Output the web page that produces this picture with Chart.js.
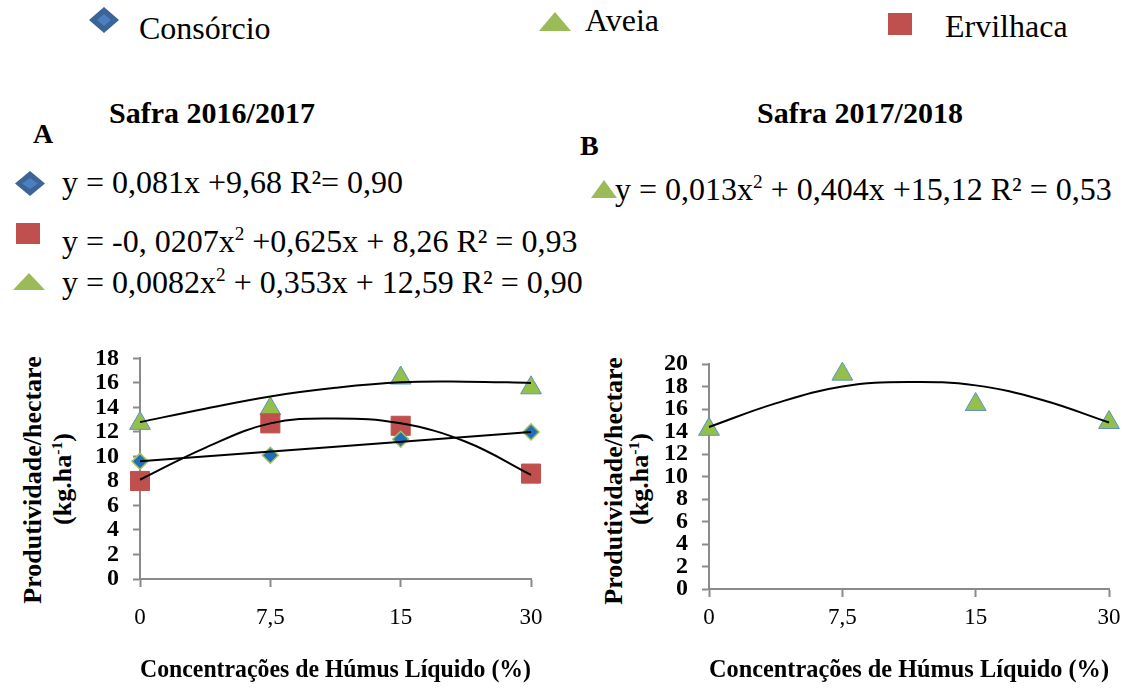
<!DOCTYPE html>
<html>
<head>
<meta charset="utf-8">
<script src="https://cdn.jsdelivr.net/npm/chart.js@4.4.1/dist/chart.umd.min.js"></script>
<style>
  body { margin: 0; background: #fff; width: 1134px; height: 695px; position: relative; overflow: hidden;
         font-family: "Liberation Serif", "Times New Roman", serif; color: #000; }
  .t { position: absolute; white-space: nowrap; line-height: 1; }
  .leg { font-size: 32px; }
  .eq { font-size: 32px; }
  .ttl { font-size: 30px; font-weight: bold; }
  .let { font-size: 28px; font-weight: bold; }
  .yt { position: absolute; white-space: nowrap; font-size: 26px; font-weight: bold; line-height: 1;
        transform: translate(-50%, -50%) rotate(-90deg); }
  sup { font-size: 0.6em; vertical-align: 0.6em; line-height: 0; }
  svg { position: absolute; overflow: visible; }
  canvas { position: absolute; }
</style>
</head>
<body>
  <!-- legend -->
  <svg style="left:89px;top:7px" width="30" height="26"><polygon points="15,0 30,13 15,26 0,13" fill="#3C6497"/><polygon points="15,7 22,13 15,19 8,13" fill="#4B80C0"/></svg>
  <div class="t leg" style="left:139px;top:12px">Consórcio</div>
  <svg style="left:539px;top:12px" width="32" height="19"><polygon points="16,0 32,19 0,19" fill="#9BBB59"/></svg>
  <div class="t leg" style="left:585px;top:4px">Aveia</div>
  <svg style="left:888px;top:13px" width="24" height="22"><rect width="24" height="22" fill="#C0504D"/></svg>
  <div class="t leg" style="left:945px;top:10px">Ervilhaca</div>

  <!-- panel headers -->
  <div class="t ttl" style="left:212px;top:98px;transform:translateX(-50%)">Safra 2016/2017</div>
  <div class="t let" style="left:33px;top:120px">A</div>
  <div class="t ttl" style="left:860px;top:98px;transform:translateX(-50%)">Safra 2017/2018</div>
  <div class="t let" style="left:580px;top:132px">B</div>

  <!-- equations A -->
  <svg style="left:15px;top:171px" width="30" height="25"><polygon points="15,0 30,12.5 15,25 0,12.5" fill="#3C6497"/><polygon points="15,7 23,12.5 15,18 7,12.5" fill="#4B80C0"/></svg>
  <div class="t eq" style="left:62px;top:166px">y = 0,081x +9,68 R²= 0,90</div>
  <svg style="left:16px;top:223px" width="24" height="21"><rect width="24" height="21" fill="#C0504D"/></svg>
  <div class="t eq" style="left:62px;top:225px">y = -0, 0207x<sup>2</sup> +0,625x + 8,26 R² = 0,93</div>
  <svg style="left:13px;top:273px" width="32" height="17"><polygon points="16,0 32,17 0,17" fill="#9BBB59"/></svg>
  <div class="t eq" style="left:62px;top:266px">y = 0,0082x<sup>2</sup> + 0,353x + 12,59 R² = 0,90</div>

  <!-- equation B -->
  <svg style="left:591px;top:180px" width="26" height="18"><polygon points="13,0 26,18 0,18" fill="#9BBB59"/></svg>
  <div class="t eq" style="left:615px;top:173px">y = 0,013x<sup>2</sup> + 0,404x +15,12 R² = 0,53</div>

  <!-- y axis titles -->
  <div class="yt" style="left:33px;top:480px">Produtividade/hectare</div>
  <div class="yt" style="left:63px;top:479px">(kg.ha<sup>-1</sup>)</div>
  <div class="yt" style="left:614px;top:481px">Produtividade/hectare</div>
  <div class="yt" style="left:640px;top:479px">(kg.ha<sup>-1</sup>)</div>

  <canvas id="chartA" width="565" height="365" style="left:0px;top:330px"></canvas>
  <canvas id="chartB" width="559" height="365" style="left:575px;top:330px"></canvas>

<script>
// categories (evenly spaced on the axis)
const xLabels = ['0', '7,5', '15', '30'];
const xIndex = [0, 1, 2, 3];
const trendX = [0, 0.5, 1, 1.5, 2, 2.5, 3];
const lineX = [0, 3];

// Safra 2016/2017
const consorcioA = [9.6, 10.1, 11.4, 12.0];
const ervilhacaA = [8.0, 12.7, 12.5, 8.6];
const aveiaA = [12.7, 13.9, 16.4, 15.6];
const consorcioTrendA = [9.6, 12.0];
const ervilhacaTrendA = [8.1, 10.7, 12.7, 13.1, 12.7, 11.2, 8.5];
const aveiaTrendA = [12.8, 13.9, 14.9, 15.6, 16.05, 16.1, 16.0];

// Safra 2017/2018
const aveiaB = [14.2, 19.1, 16.4, 14.8];
const aveiaTrendB = [14.4, 16.5, 18.0, 18.4, 18.1, 16.8, 14.8];

const yMaxA = 18;
const yMaxB = 20;

const FONT = '"Liberation Serif", "Times New Roman", serif';
const AXIS = '#8a8a8a';

const pts = (xs, ys) => ys.map((y, i) => ({ x: xs[i], y }));

const trend = (xs, ys) => ({
  type: 'line', data: pts(xs, ys), borderColor: '#000', borderWidth: 2,
  pointRadius: 0, tension: 0.4, fill: false, order: 0, clip: false
});

const marks = {
  consorcio: { pointStyle: 'rectRot', pointRadius: 8, backgroundColor: '#1F6FB9', borderColor: '#A3C15C', borderWidth: 1.5 },
  ervilhaca: { pointStyle: 'rect', pointRadius: 13.5, backgroundColor: '#C0504D', borderColor: '#C0504D', borderWidth: 1 },
  aveia: { pointStyle: 'triangle', pointRadius: 12, backgroundColor: '#92C048', borderColor: '#5B8FCF', borderWidth: 1 }
};

const points = (ys, style) => Object.assign({ data: pts(xIndex, ys), order: 1, clip: false }, style);

function makeChart(id, datasets, o) {
  return new Chart(document.getElementById(id), {
    type: 'scatter',
    data: { datasets },
    options: {
      responsive: false,
      animation: false,
      events: [],
      layout: { padding: { left: 0, top: o.top, right: o.right, bottom: 0 } },
      plugins: { legend: { display: false }, tooltip: { enabled: false } },
      scales: {
        x: {
          type: 'linear', min: 0, max: 3,
          afterFit: s => { s.height = o.xHeight; },
          ticks: {
            stepSize: 1, autoSkip: false, maxRotation: 0, padding: o.xPad, color: '#000',
            font: { family: FONT, size: 23 },
            callback: v => xLabels[v] !== undefined ? xLabels[v] : ''
          },
          grid: { drawOnChartArea: false, tickLength: 8, color: AXIS, tickWidth: 2 },
          border: { display: true, color: AXIS, width: 2 },
          title: {
            display: true, text: 'Concentrações de Húmus Líquido (%)', color: '#000',
            font: { family: FONT, size: 25, weight: 'bold' }, padding: { top: 0, bottom: 9 }
          }
        },
        y: {
          min: 0, max: o.yMax,
          afterFit: s => { s.width = o.left; },
          ticks: { stepSize: 2, autoSkip: false, padding: 14, color: '#000', font: { family: FONT, size: 24, weight: 'bold' } },
          grid: { drawOnChartArea: false, tickLength: 7, color: AXIS, tickWidth: 2 },
          border: { display: true, color: AXIS, width: 2 }
        }
      }
    }
  });
}

makeChart('chartA', [
  trend(trendX, aveiaTrendA),
  trend(trendX, ervilhacaTrendA),
  trend(lineX, consorcioTrendA),
  points(consorcioA, marks.consorcio),
  points(ervilhacaA, marks.ervilhaca),
  points(aveiaA, marks.aveia)
], { left: 140, right: 34, top: 20, xHeight: 116, xPad: 17, yMax: yMaxA });

makeChart('chartB', [
  trend(trendX, aveiaTrendB),
  points(aveiaB, marks.aveia)
], { left: 134, right: 25, top: 34, xHeight: 106, xPad: 7, yMax: yMaxB });
</script>
</body>
</html>
